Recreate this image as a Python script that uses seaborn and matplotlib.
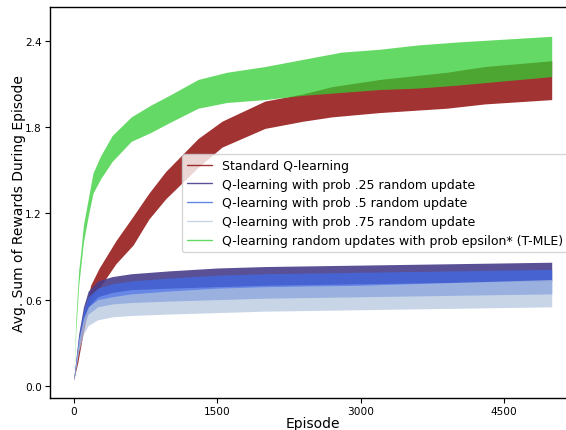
import pandas as pd
import seaborn as sns
import matplotlib
matplotlib.use("Agg")
import matplotlib.pyplot as plt
from matplotlib.lines import Line2D


# band edges (low / high) of each noisy reward curve

# Standard Q-learning
stdEpisodes = [0, 40, 100, 175, 265, 440, 620, 785, 960, 1300, 1550, 2000, 2400, 2700, 3200, 3900, 4300, 5000]
stdLow = [0.05, 0.16, 0.38, 0.60, 0.68, 0.85, 0.98, 1.16, 1.30, 1.52, 1.66, 1.79, 1.84, 1.87, 1.90, 1.93, 1.96, 1.99]
stdHigh = [0.06, 0.22, 0.46, 0.70, 0.82, 1.01, 1.18, 1.34, 1.49, 1.72, 1.84, 1.98, 2.03, 2.08, 2.13, 2.18, 2.22, 2.26]

# random update runs share the same episode checkpoints
randEpisodes = [0, 50, 100, 150, 250, 400, 600, 1000, 1500, 2000, 3000, 4000, 5000]
p25Low = [0.04, 0.28, 0.45, 0.55, 0.62, 0.65, 0.67, 0.68, 0.69, 0.70, 0.71, 0.72, 0.73]
p25High = [0.06, 0.36, 0.55, 0.66, 0.73, 0.76, 0.78, 0.80, 0.82, 0.83, 0.84, 0.85, 0.86]
p50Low = [0.04, 0.26, 0.42, 0.50, 0.55, 0.57, 0.58, 0.59, 0.60, 0.61, 0.62, 0.63, 0.64]
p50High = [0.06, 0.34, 0.52, 0.62, 0.68, 0.71, 0.73, 0.75, 0.77, 0.78, 0.79, 0.80, 0.81]
p75Low = [0.04, 0.24, 0.36, 0.42, 0.46, 0.48, 0.49, 0.50, 0.51, 0.52, 0.53, 0.54, 0.55]
p75High = [0.06, 0.32, 0.47, 0.55, 0.60, 0.62, 0.64, 0.66, 0.68, 0.69, 0.70, 0.72, 0.74]

# T-MLE epsilon*
tmleEpisodes = [0, 20, 50, 75, 100, 150, 200, 280, 400, 600, 800, 1000, 1300, 1600, 2000, 2400, 2800, 3200, 3600, 4000, 4500, 5000]
tmleLow = [0.05, 0.38, 0.70, 0.85, 1.00, 1.18, 1.34, 1.44, 1.56, 1.70, 1.76, 1.83, 1.93, 1.97, 1.99, 2.02, 2.04, 2.06, 2.07, 2.09, 2.12, 2.15]
tmleHigh = [0.06, 0.46, 0.80, 0.95, 1.12, 1.30, 1.48, 1.60, 1.74, 1.87, 1.95, 2.02, 2.13, 2.18, 2.22, 2.27, 2.32, 2.34, 2.37, 2.39, 2.41, 2.43]

labels = ['Standard Q-learning',
          'Q-learning with prob .25 random update',
          'Q-learning with prob .5 random update',
          'Q-learning with prob .75 random update',
          'Q-learning random updates with prob epsilon* (T-MLE)']
xTicks = [0, 1500, 3000, 4500]
yTicks = [0.0, 0.6, 1.2, 1.8, 2.4]


def buildBand(episodes, low, high):
    # two rows per episode -> seaborn spans min..max with pi 100
    data = {'Episode': [], 'Reward': []}
    for i in range(len(episodes)):
        data['Episode'].append(episodes[i])
        data['Reward'].append(low[i])
        data['Episode'].append(episodes[i])
        data['Reward'].append(high[i])
    return pd.DataFrame(data)


sns.set_style("ticks")
plt.rcParams['font.family'] = ['DejaVu Sans']
plt.rcParams['text.color'] = 'black'
plt.rcParams['axes.labelcolor'] = 'black'

fig = plt.figure(figsize=(5.66, 4.31), dpi=100)
ax = fig.add_axes([50 / 566, 32 / 431, 525.5 / 566, 391.5 / 431])

series = [
    (stdEpisodes, stdLow, stdHigh, 'darkred', 0.8),
    (randEpisodes, p25Low, p25High, 'darkslateblue', 0.9),
    (randEpisodes, p50Low, p50High, 'royalblue', 0.8),
    (randEpisodes, p75Low, p75High, 'lightsteelblue', 0.7),
    (tmleEpisodes, tmleLow, tmleHigh, 'limegreen', 0.75),
]

handles = []
for (eps, lo, hi, col, a), lab in zip(series, labels):
    df = buildBand(eps, lo, hi)
    sns.lineplot(data=df, x='Episode', y='Reward', estimator='mean',
                 errorbar=('pi', 100), color=col, linewidth=0,
                 err_kws={'alpha': a, 'linewidth': 0}, ax=ax)
    handles.append(Line2D([], [], color=col, alpha=a, linewidth=1.0))

ax.set_xlim(-250, 5249)
ax.set_ylim(-0.0835, 2.637)
ax.set_xticks(xTicks)
ax.set_yticks(yTicks)
ax.set_xticklabels([str(t) for t in xTicks])
ax.set_yticklabels(['%.1f' % t for t in yTicks])
ax.tick_params(labelsize=7.6, length=3.5, width=0.8, colors='black', pad=2.5)
ax.set_xlabel('Episode', fontsize=10, labelpad=0)
ax.set_ylabel('Avg. Sum of Rewards During Episode', fontsize=10, labelpad=-1)
for s in ax.spines.values():
    s.set_linewidth(1.0)
    s.set_color('black')

ax.legend(handles, labels, loc='upper left', bbox_to_anchor=(182 / 566, 1 - 155 / 431),
          bbox_transform=fig.transFigure, borderaxespad=0, fontsize=9,
          labelspacing=0.46, framealpha=0.8)

fig.savefig('out.png', dpi=100)
